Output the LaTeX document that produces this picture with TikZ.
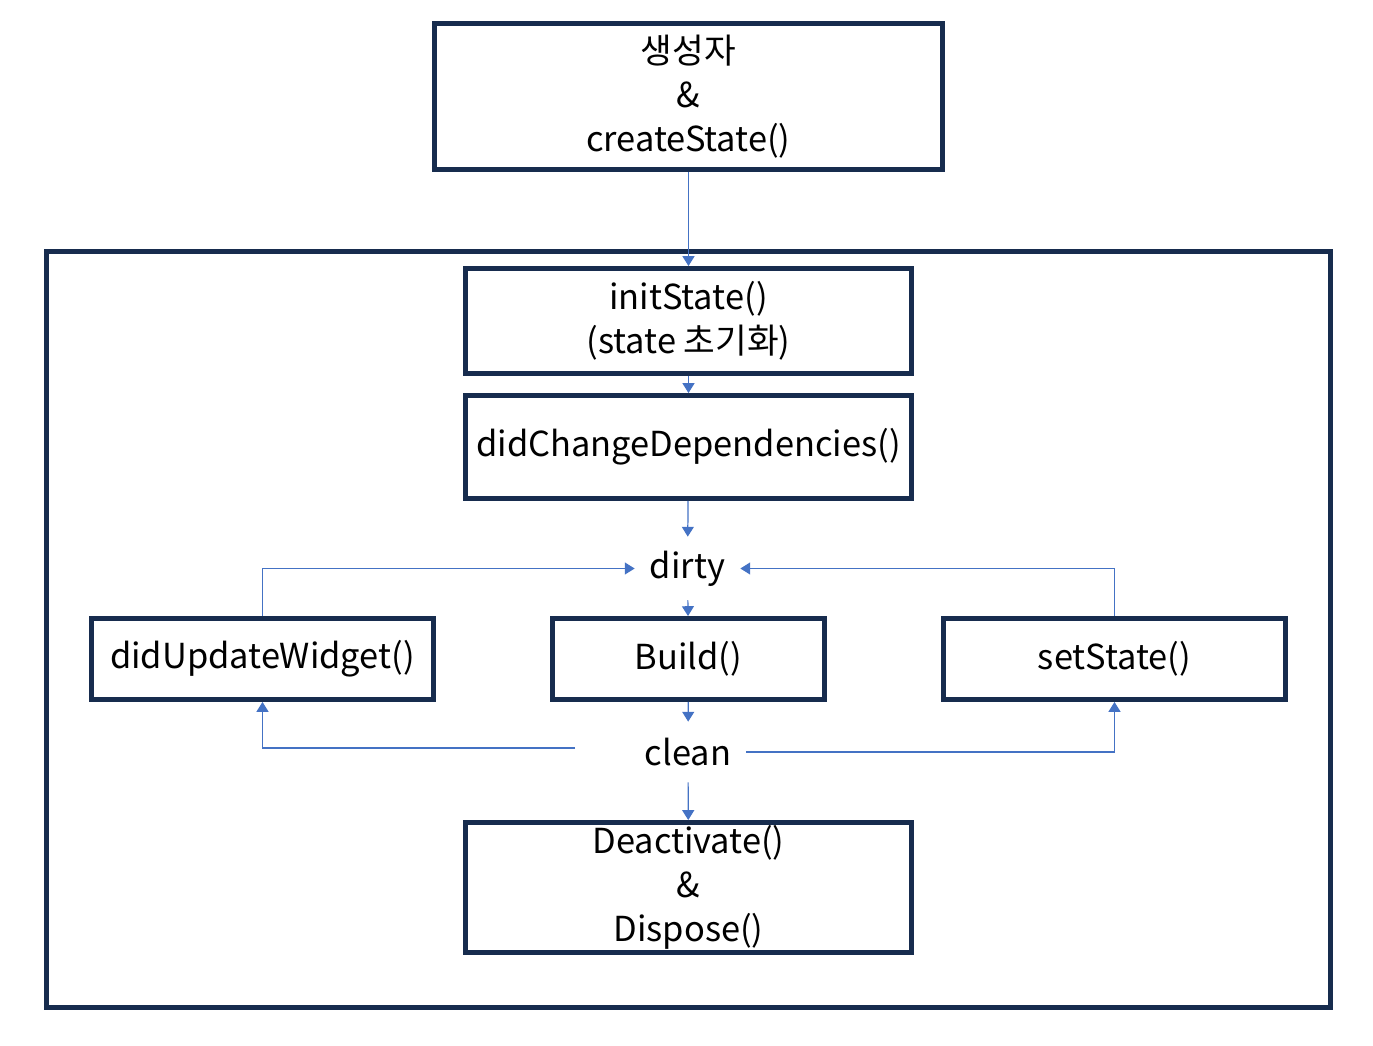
\documentclass[tikz,border=0pt]{standalone}
\usepackage{fontspec}
\setmainfont{Noto Sans CJK KR}
\usetikzlibrary{arrows.meta}
\definecolor{boxnavy}{HTML}{172C4E}
\definecolor{flowblue}{HTML}{4472C4}
\tikzset{
  blk/.style={draw=boxnavy,line width=2.8pt,align=center,inner sep=0pt,
    font=\fontsize{19.6}{25}\selectfont},
  lbl/.style={inner sep=0pt,font=\fontsize{19.6}{25}\selectfont},
  flow/.style={flowblue,line width=0.7pt,-{Triangle[length=5.6pt,width=6.8pt]}}
}
\begin{document}
\begin{tikzpicture}[x=0.02cm,y=-0.02cm]
\useasboundingbox (0,0) rectangle (1373,1045);
% boxes
\node[blk,minimum width=25.68cm,minimum height=15.12cm] (frame) at (688.5,629.5) {};
\node[blk,minimum width=10.16cm,minimum height=2.92cm] (ctor) at (688.5,96.5) {생성자\\\&\\createState()};
\node[blk,minimum width=8.92cm,minimum height=2.1cm] (init) at (688.5,321) {initState()\\(state 초기화)};
\node[blk,minimum width=8.92cm,minimum height=2.06cm] (deps) at (688.5,447) {didChangeDependencies()};
\node[blk,minimum width=6.84cm,minimum height=1.62cm] (upd) at (262.5,659) {didUpdateWidget()};
\node[blk,minimum width=5.44cm,minimum height=1.62cm] (build) at (688.5,659) {Build()};
\node[blk,minimum width=6.84cm,minimum height=1.62cm] (set) at (1114.5,659) {setState()};
\node[blk,minimum width=8.92cm,minimum height=2.6cm] (dispose) at (688.5,887.5) {Deactivate()\\\&\\Dispose()};
% states
\node[lbl,minimum width=2.1cm,minimum height=1.26cm] (dirty) at (687.5,568.5) {dirty};
\node[lbl,minimum width=2.32cm,minimum height=1.2cm] (clean) at (688,752) {clean};
\coordinate (cleanL) at (575,748);
% arrows
\draw[flow] (ctor) -- (init);
\draw[flow] (init) -- (deps);
\draw[flow] (deps) -- (dirty);
\draw[flow] (dirty) -- (build);
\draw[flow] (build) -- (clean);
\draw[flow] (clean) -- (dispose);
\draw[flow] (upd.north) |- (dirty.west);
\draw[flow] (set.north) |- (dirty.east);
\draw[flow] (cleanL) -| (upd.south);
\draw[flow] (clean.east) -| (set.south);
\end{tikzpicture}
\end{document}
